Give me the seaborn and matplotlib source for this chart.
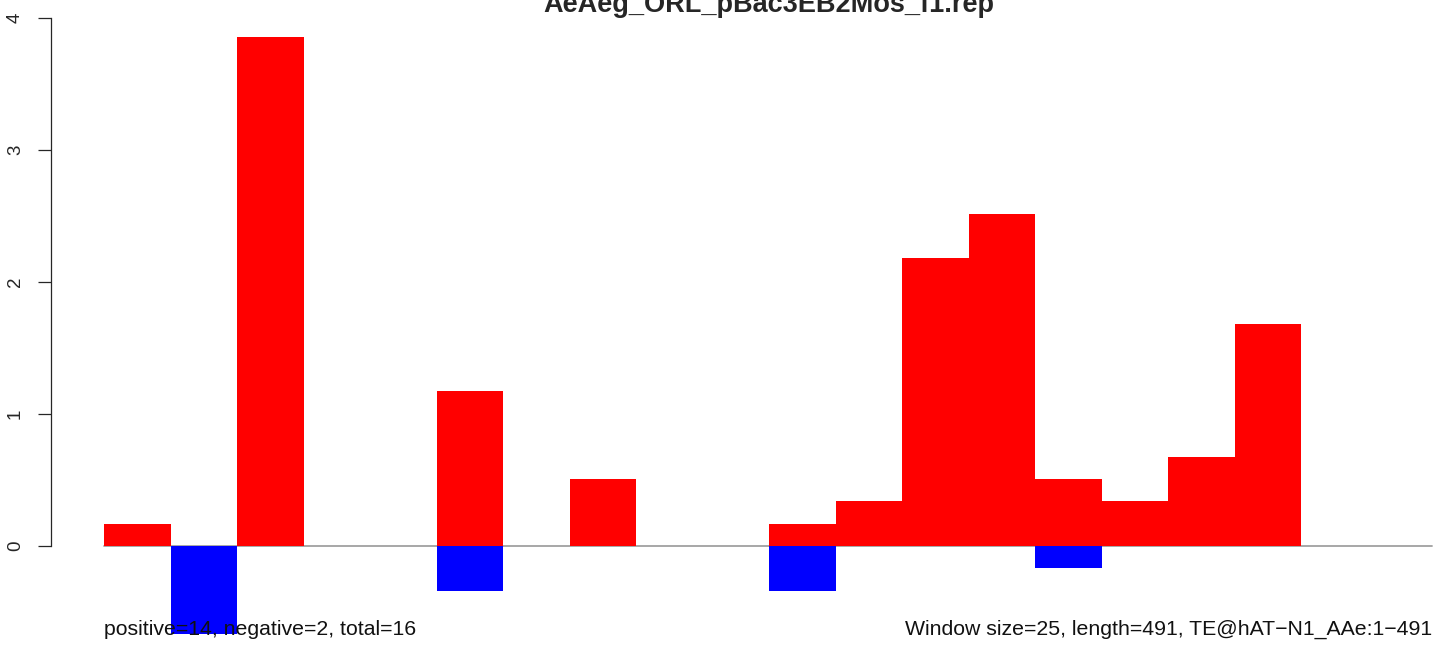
import pandas as pd
import numpy as np
import matplotlib
matplotlib.use('Agg')
import matplotlib.pyplot as plt
import seaborn as sns

# Data: per-window scores (window size 25 over 491 bp -> 20 windows)
windows = list(range(20))
pos_values = [0.17, 0, 3.855, 0, 0, 1.175, 0, 0.505, 0, 0,
              0.17, 0.34, 2.18, 2.515, 0.505, 0.34, 0.675, 1.68, 0, 0]
neg_values = [0, -0.67, 0, 0, 0, -0.34, 0, 0, 0, 0,
              -0.34, 0, 0, 0, -0.17, 0, 0, 0, 0, 0]
y_ticks = [0, 1, 2, 3, 4]

title = "AeAeg_ORL_pBac3EB2Mos_f1.rep"
left_note = "positive=14, negative=2, total=16"
right_note = "Window size=25, length=491, TE@hAT\u2212N1_AAe:1\u2212491"

sns.set_style('white')
plt.rcParams['font.family'] = ['Liberation Sans', 'DejaVu Sans']

W, H = 1444, 656
fig = plt.figure(figsize=(W / 100, H / 100), dpi=100)
ax = fig.add_axes([51 / W, 0, 1 - 51 / W, 1])

df = pd.DataFrame({'window': [str(w) for w in windows],
                   'pos': pos_values, 'neg': neg_values})
order = df['window'].tolist()

sns.barplot(data=df, x='window', y='pos', order=order, color='#ff0000',
            width=1.0, saturation=1, linewidth=0, ax=ax)
sns.barplot(data=df, x='window', y='neg', order=order, color='#0000ff',
            width=1.0, saturation=1, linewidth=0, ax=ax)

# pixel mapping: y=0 at 546px, y=4 at 18px -> 132 px per unit
ax.set_ylim((546 - H) / 132, 546 / 132)
# bar 0 centre at 137.25px, 66.5px per bar
ax.set_xlim((51 - 137.25) / 66.5, (W - 137.25) / 66.5)

ax.plot([-0.5, 19.47], [0, 0], color='#a0a0a0', lw=1.3, zorder=0.5)

for s in ['top', 'right', 'bottom']:
    ax.spines[s].set_visible(False)
ax.spines['left'].set_bounds(0, 4)
ax.spines['left'].set_linewidth(0.9)
ax.set_yticks(y_ticks)
ax.set_yticklabels([str(t) for t in y_ticks], rotation=90, va='center', fontsize=13.5)
ax.tick_params(axis='y', left=True, length=9.4, width=0.9, pad=10)
ax.set_xticks([])
ax.set_xlabel('')
ax.set_ylabel('')

fig.text(769 / W, 1 - 12 / H, title, ha='center', va='baseline',
         fontsize=19.5, fontweight='bold')
fig.text(104 / W, 1 - 635 / H, left_note, ha='left', va='baseline',
         fontsize=15.3, color='#111111', zorder=5)
fig.text(1432 / W, 1 - 635 / H, right_note, ha='right', va='baseline',
         fontsize=15.3, color='#111111', zorder=5)

fig.savefig('out.png', dpi=100)
